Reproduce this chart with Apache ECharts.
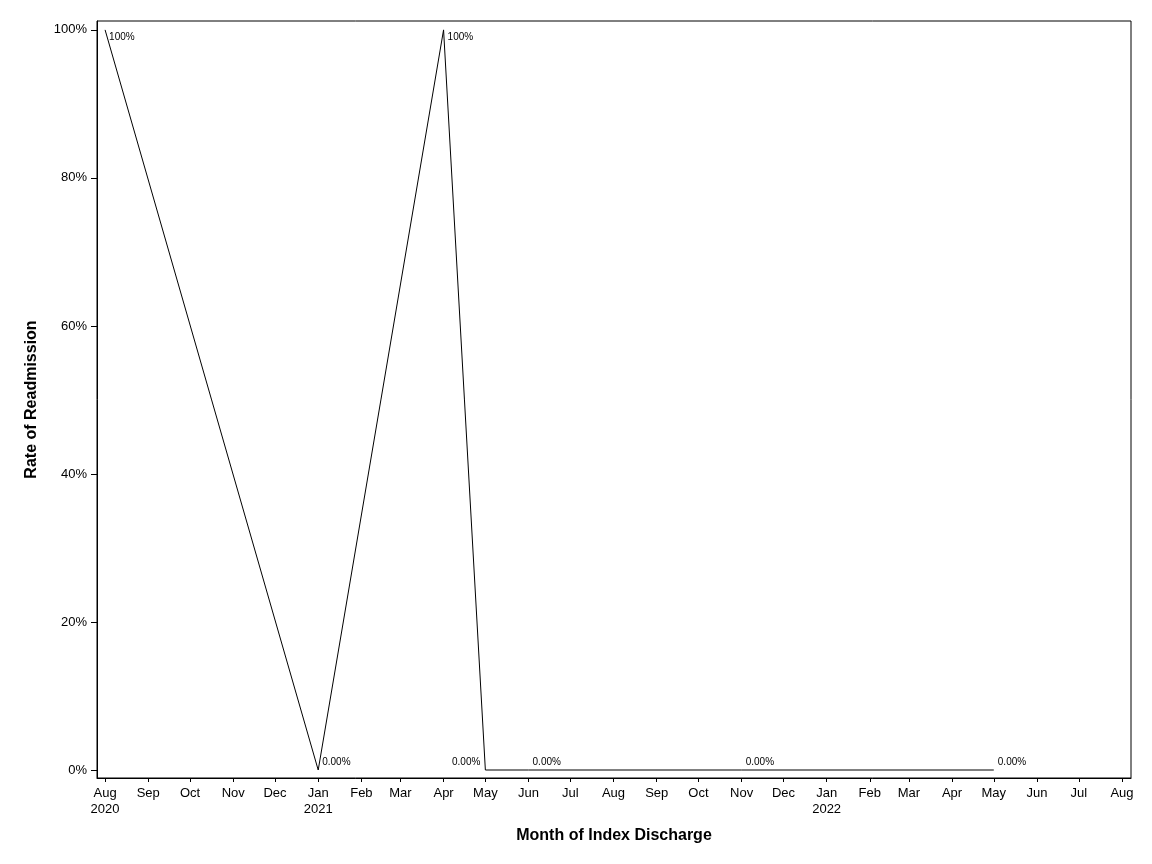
<!DOCTYPE html>
<html>
<head>
<meta charset="utf-8">
<script src="https://cdn.jsdelivr.net/npm/echarts@6/dist/echarts.min.js"></script>
<style>
  html, body { margin: 0; padding: 0; background: #fff; }
  #chart { width: 1152px; height: 864px; }
</style>
</head>
<body>
<div id="chart"></div>
<script>
// month ticks shown on the x axis
var tickMonths = ['2020-08','2020-09','2020-10','2020-11','2020-12','2021-01','2021-02','2021-03',
    '2021-04','2021-05','2021-06','2021-07','2021-08','2021-09','2021-10','2021-11','2021-12',
    '2022-01','2022-02','2022-03','2022-04','2022-05','2022-06','2022-07','2022-08'];
var tickLabels = ['Aug\n2020','Sep','Oct','Nov','Dec','Jan\n2021','Feb','Mar','Apr','May','Jun','Jul',
    'Aug','Sep','Oct','Nov','Dec','Jan\n2022','Feb','Mar','Apr','May','Jun','Jul','Aug'];

// readmission rate per month of index discharge
var pointMonths = ['2020-08','2021-01','2021-04','2021-05','2021-06','2021-11','2022-05'];
var rates = [100, 0, 100, 0, 0, 0, 0];
var rateLabels = ['100%','0.00%','100%','0.00%','0.00%','0.00%','0.00%'];

var yTicks = [0, 20, 40, 60, 80, 100];

// days since 1970-01-01 (UTC), so the x axis is a plain linear date scale
function toDay(m) {
    var p = m.split('-');
    return Date.UTC(+p[0], +p[1] - 1, 1) / 86400000;
}
var tickDays = tickMonths.map(toDay);

var chart = echarts.init(document.getElementById('chart'));
var font = 'Liberation Sans, Arial, sans-serif';

var seriesData = pointMonths.map(function (m, i) {
    var high = rates[i] > 50;
    var left = i === 3;
    return {
        value: [toDay(m), rates[i]],
        label: {
            show: true,
            formatter: rateLabels[i],
            position: [left ? -5 : 4, high ? 2 : -13],
            align: left ? 'right' : 'left',
            verticalAlign: 'top'
        }
    };
});

var option = {
    animation: false,
    backgroundColor: '#fff',
    grid: {
        left: 97, right: 21, top: 21, bottom: 86,
        show: true, borderColor: '#000', borderWidth: 1
    },
    xAxis: {
        type: 'value',
        min: tickDays[0] - 5.8,
        max: tickDays[tickDays.length - 1] + 6.5,
        name: 'Month of Index Discharge',
        nameLocation: 'middle',
        nameGap: 50,
        nameTextStyle: { fontFamily: font, fontSize: 16, fontWeight: 'bold', color: '#000' },
        axisLine: { show: true, onZero: false, lineStyle: { color: '#000', width: 1 } },
        axisTick: { show: true, length: 4, customValues: tickDays, lineStyle: { color: '#000' } },
        axisLabel: {
            customValues: tickDays,
            margin: 7,
            fontFamily: font, fontSize: 13, color: '#000', lineHeight: 16,
            formatter: function (v) {
                var idx = tickDays.indexOf(v);
                return idx >= 0 ? tickLabels[idx] : '';
            }
        },
        splitLine: { show: false }
    },
    yAxis: {
        type: 'value',
        min: -1.08,
        max: 101.2,
        name: 'Rate of Readmission',
        nameLocation: 'middle',
        nameGap: 57,
        nameTextStyle: { fontFamily: font, fontSize: 16, fontWeight: 'bold', color: '#000' },
        axisLine: { show: true, onZero: false, lineStyle: { color: '#000', width: 1 } },
        axisTick: { show: true, length: 6, customValues: yTicks, lineStyle: { color: '#000' } },
        axisLabel: {
            customValues: yTicks,
            margin: 10,
            fontFamily: font, fontSize: 13, color: '#000',
            formatter: function (v) { return v + '%'; }
        },
        splitLine: { show: false }
    },
    series: [{
        type: 'line',
        data: seriesData,
        symbol: 'circle',
        symbolSize: 0,
        showSymbol: true,
        lineStyle: { color: '#000', width: 1 },
        itemStyle: { color: '#000' },
        label: { fontFamily: font, fontSize: 10, color: '#000' },
        labelLayout: { hideOverlap: false }
    }]
};
chart.setOption(option);
</script>
</body>
</html>
